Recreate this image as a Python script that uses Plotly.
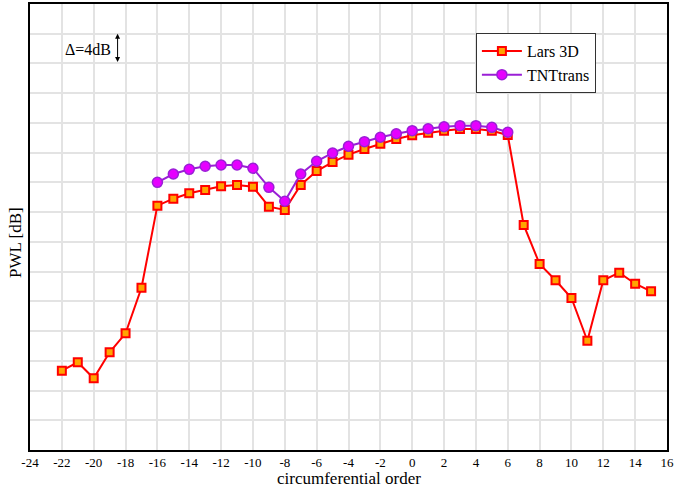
import plotly.graph_objects as go

orders_lars = list(range(-22, 16))
lars_3d = [10.67, 11.80, 9.65, 13.14, 15.70, 21.83, 32.87, 33.81, 34.53, 34.98,
           35.48, 35.65, 35.42, 32.73, 32.29, 35.65, 37.53, 38.74, 39.73, 40.49,
           41.21, 41.84, 42.34, 42.69, 42.96, 43.18, 43.18, 42.96, 42.38, 30.27,
           25.02, 22.83, 20.45, 14.70, 22.83, 23.85, 22.37, 21.35]

orders_tnt = list(range(-16, 7))
tnt_trans = [36.01, 37.13, 37.76, 38.17, 38.34, 38.34, 37.90, 35.34, 33.46, 37.13,
             38.84, 39.96, 40.86, 41.48, 42.07, 42.55, 42.96, 43.22, 43.49, 43.63,
             43.63, 43.41, 42.74]

x_ticks = list(range(-24, 17, 2))

font_family = "Liberation Serif"

fig = go.Figure()
fig.add_trace(go.Scatter(
    x=orders_lars, y=lars_3d, mode="lines+markers", name="Lars 3D",
    line=dict(color="#ff0000", width=2),
    marker=dict(symbol="square", size=8, color="#ffa500",
                line=dict(color="#ff0000", width=2)),
))
fig.add_trace(go.Scatter(
    x=orders_tnt, y=tnt_trans, mode="lines+markers", name="TNTtrans",
    line=dict(color="#9a1fd6", width=2),
    marker=dict(symbol="circle", size=10, color="#e600ff",
                line=dict(color="#9a1fd6", width=1.5)),
))

fig.add_annotation(x=-20.35, y=53.9, text="Δ=4dB", showarrow=False,
                   font=dict(family=font_family, size=16, color="black"))
fig.add_annotation(x=-18.5, y=56, ax=-18.5, ay=52, xref="x", yref="y",
                   axref="x", ayref="y", text="", showarrow=True,
                   arrowhead=2, arrowside="end+start", arrowsize=1,
                   arrowwidth=1, arrowcolor="black")

# axis titles as paper annotations
fig.add_annotation(x=0.5, y=0, xref="paper", yref="paper", yanchor="top",
                   yshift=-17, text="circumferential order", showarrow=False,
                   font=dict(family=font_family, size=17, color="black"))
fig.add_annotation(x=0, y=0.5, xref="paper", yref="paper", xanchor="center",
                   xshift=-15, yshift=-16, textangle=-90, text="PWL [dB]",
                   showarrow=False,
                   font=dict(family=font_family, size=17, color="black"))

fig.update_layout(
    width=677, height=489,
    margin=dict(l=30, r=10, t=4, b=39, autoexpand=False),
    paper_bgcolor="white", plot_bgcolor="white",
    font=dict(family=font_family, size=13, color="black"),
    showlegend=True,
    legend=dict(x=0.7, y=0.935, xanchor="left", yanchor="top",
                bgcolor="white", bordercolor="#333333", borderwidth=1,
                font=dict(family=font_family, size=16), tracegroupgap=0,
                itemwidth=40),
)
fig.update_xaxes(
    range=[-24, 16], tickvals=x_ticks, ticktext=[str(v) for v in x_ticks],
    showgrid=True, gridcolor="#e3e3e3", gridwidth=1.5,
    showline=True, linecolor="black", linewidth=1.5, mirror=True,
    zeroline=False, ticks="", automargin=False,
    tickfont=dict(size=13),
)
fig.update_yaxes(
    range=[0, 60], dtick=4, showticklabels=False,
    showgrid=True, gridcolor="#e3e3e3", gridwidth=1.5,
    showline=True, linecolor="black", linewidth=1.5, mirror=True,
    zeroline=False, ticks="", automargin=False,
)

fig.write_html("out.html", config={"displayModeBar": False},
               post_script="document.body.style.margin='0';document.body.style.padding='0';")
